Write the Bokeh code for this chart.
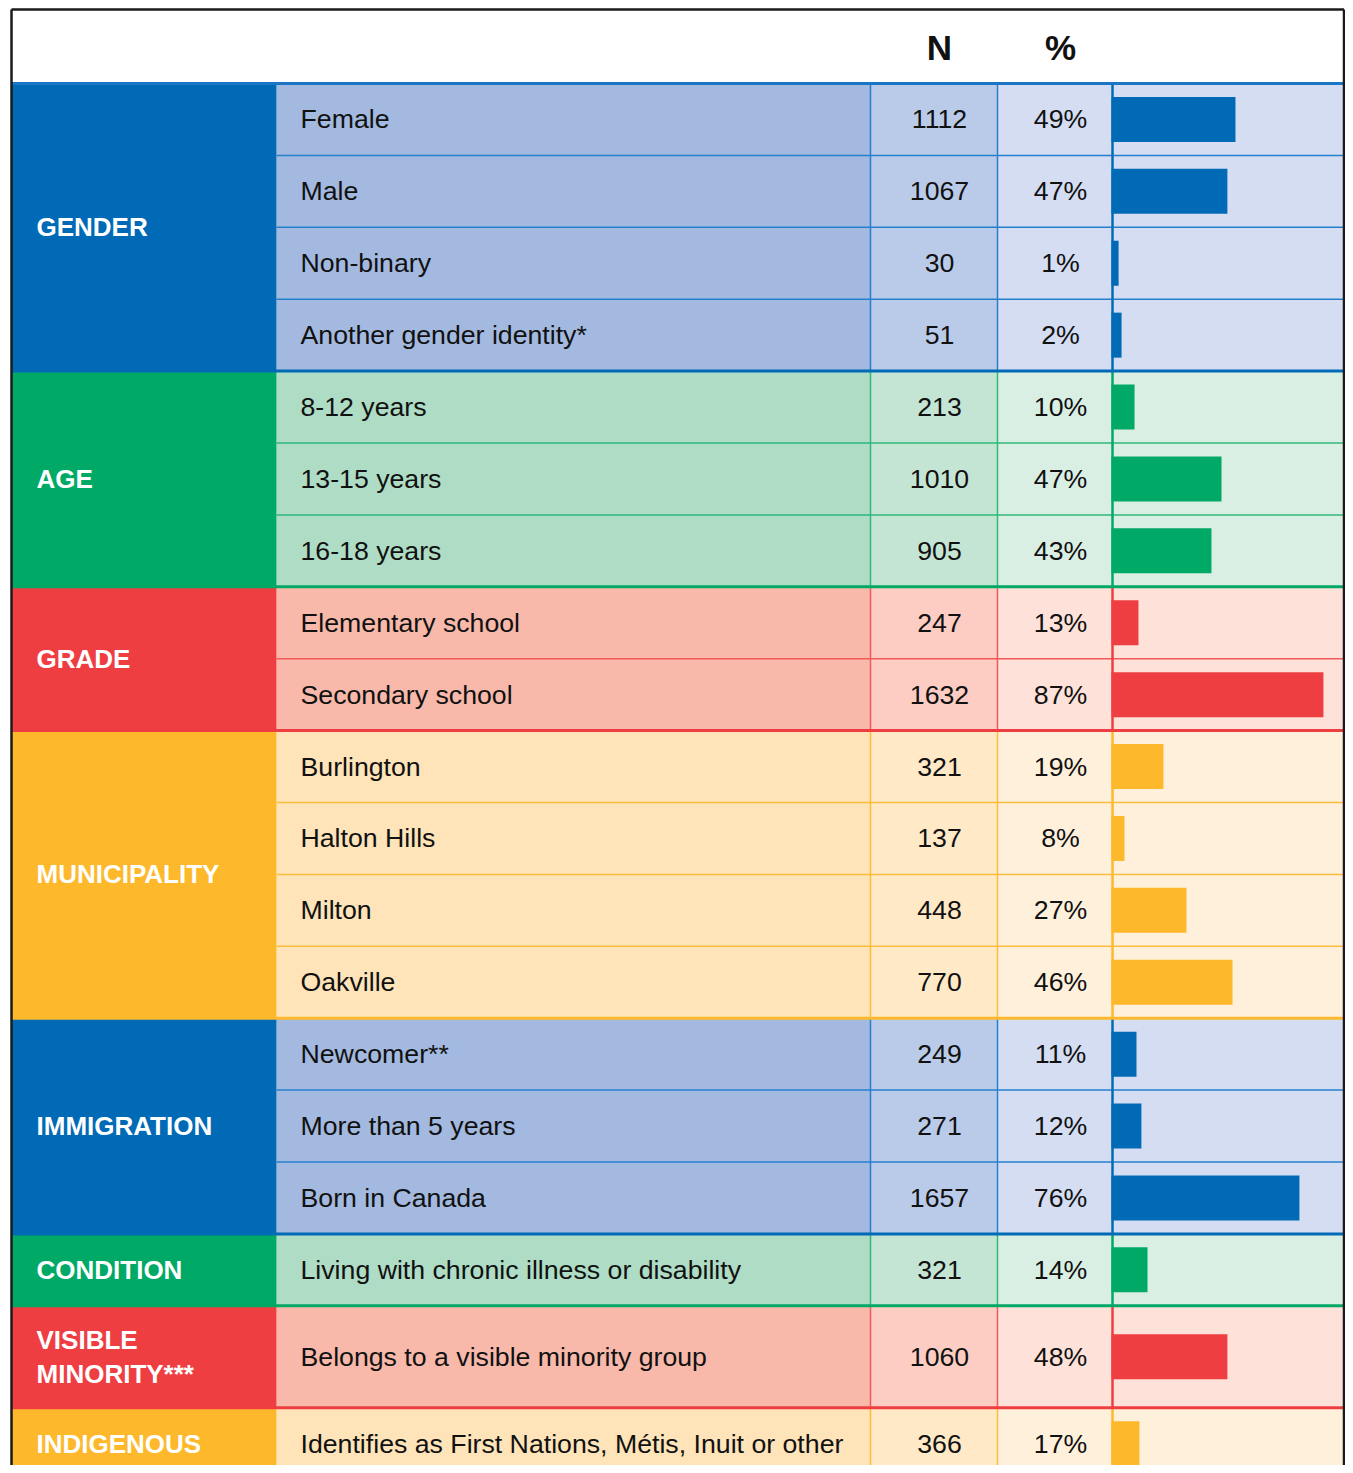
from bokeh.plotting import figure
from bokeh.models import Range1d, ColumnDataSource
from bokeh.core.properties import value
from bokeh.embed import file_html
from bokeh.resources import INLINE

# ---------------- data ----------------
sections = ["GENDER", "AGE", "GRADE", "MUNICIPALITY", "IMMIGRATION",
            "CONDITION", "VISIBLE\nMINORITY***", "INDIGENOUS"]
section_sizes = [4, 3, 2, 4, 3, 1, 1, 1]
section_theme = ["blue", "green", "red", "yellow", "blue", "green", "red", "yellow"]

labels = ["Female", "Male", "Non-binary", "Another gender identity*",
          "8-12 years", "13-15 years", "16-18 years",
          "Elementary school", "Secondary school",
          "Burlington", "Halton Hills", "Milton", "Oakville",
          "Newcomer**", "More than 5 years", "Born in Canada",
          "Living with chronic illness or disability",
          "Belongs to a visible minority group",
          "Identifies as First Nations, Métis, Inuit or other"]
counts = [1112, 1067, 30, 51, 213, 1010, 905, 247, 1632, 321, 137, 448, 770,
          249, 271, 1657, 321, 1060, 366]
pct = [49, 47, 1, 2, 10, 47, 43, 13, 87, 19, 8, 27, 46, 11, 12, 76, 14, 48, 17]
# bar lengths as drawn in the picture (percent units)
bar_share = [50.6, 47.3, 2.9, 4.1, 9.4, 44.9, 40.8, 11.0, 86.5, 21.2, 5.3,
             30.6, 49.4, 10.2, 12.2, 76.7, 14.7, 47.3, 11.4]
header_cols = ["N", "%"]

# ---------------- styles ----------------
themes = {
    "blue":   dict(dark="#006AB6", label="#A3B9E0", n="#BACBE9", pc="#D4DDF2", line="#2480CC"),
    "green":  dict(dark="#00A966", label="#AEDCC5", n="#C5E5D4", pc="#DAEFE3", line="#2EB87A"),
    "red":    dict(dark="#EF3E42", label="#F8B9AA", n="#FDCDC3", pc="#FEE1D8", line="#F25A5A"),
    "yellow": dict(dark="#FDB92B", label="#FEE4B8", n="#FFE9C6", pc="#FFF0DB", line="#FDBD3C"),
}
FONT = value("Liberation Sans")
W, H = 1345, 1465
X_LEFT, X_CAT, X_N, X_PC, X_BAR, X_RIGHT = 11, 276, 870, 997, 1111, W - 1.5
Y_TOP, Y_HEAD = 9, 83
ROW_H, TALL_H = 71.9, 102
PX_PER_PCT = 2.45

p = figure(width=W, height=H, x_range=Range1d(0, W), y_range=Range1d(H, 0),
           output_backend="svg", toolbar_location=None, min_border=0,
           x_axis_type=None, y_axis_type=None, outline_line_color=None,
           background_fill_color="white", border_fill_color="white")
p.grid.visible = False
p.extra_x_ranges = {"bar": Range1d((0 - X_BAR) / PX_PER_PCT, (W - X_BAR) / PX_PER_PCT)}

# row geometry
row_top, row_bot, row_theme, row_sec = [], [], [], []
y = Y_HEAD
for si, size in enumerate(section_sizes):
    for k in range(size):
        h = TALL_H if "\n" in sections[si] else ROW_H
        row_top.append(y)
        row_bot.append(y + h)
        row_theme.append(section_theme[si])
        row_sec.append(si)
        y += h
row_mid = [(a + b) / 2 for a, b in zip(row_top, row_bot)]

# cell backgrounds
L, R, T, B, C = [], [], [], [], []
for i in range(len(labels)):
    th = themes[row_theme[i]]
    for (l, rr, key) in [(X_CAT, X_N, "label"), (X_N, X_PC, "n"), (X_PC, X_BAR, "pc"), (X_BAR, X_RIGHT, "pc")]:
        L.append(l); R.append(rr); T.append(row_top[i]); B.append(row_bot[i]); C.append(th[key])
sec_top, sec_bot = [], []
idx = 0
for si, size in enumerate(section_sizes):
    sec_top.append(row_top[idx]); sec_bot.append(row_bot[idx + size - 1])
    L.append(X_LEFT); R.append(X_CAT); T.append(row_top[idx]); B.append(row_bot[idx + size - 1])
    C.append(themes[section_theme[si]]["dark"])
    idx += size
p.quad(left=L, right=R, top=T, bottom=B, fill_color=C, line_color=None)

# thin row lines inside sections
sx0, sy0, sx1, sy1, sc = [], [], [], [], []
for i in range(len(labels) - 1):
    if row_sec[i] == row_sec[i + 1]:
        sx0.append(X_CAT); sx1.append(X_RIGHT); sy0.append(row_bot[i]); sy1.append(row_bot[i])
        sc.append(themes[row_theme[i]]["line"])
p.segment(x0=sx0, y0=sy0, x1=sx1, y1=sy1, line_color=sc, line_width=1.5)

# vertical lines per section
vx0, vy0, vx1, vy1, vc = [], [], [], [], []
for si in range(len(sections)):
    th = themes[section_theme[si]]
    for xv in (X_N, X_PC):
        vx0.append(xv); vx1.append(xv); vy0.append(sec_top[si]); vy1.append(sec_bot[si]); vc.append(th["line"])
p.segment(x0=vx0, y0=vy0, x1=vx1, y1=vy1, line_color=vc, line_width=1.5)
p.segment(x0=[X_BAR + 1] * len(sections), x1=[X_BAR + 1] * len(sections), y0=sec_top, y1=sec_bot,
          line_color=[themes[t]["dark"] for t in section_theme], line_width=2.5)

# bars
src = ColumnDataSource(dict(y=row_mid, right=bar_share,
                            color=[themes[t]["dark"] for t in row_theme]))
p.hbar(y="y", left=0, right="right", height=45, fill_color="color", line_color=None,
       source=src, x_range_name="bar")

# section boundary lines
p.segment(x0=[X_LEFT] * len(sections), x1=[X_RIGHT] * len(sections), y0=sec_bot, y1=sec_bot,
          line_color=[themes[t]["dark"] for t in section_theme], line_width=3)
p.segment(x0=[X_LEFT], x1=[X_RIGHT], y0=[Y_HEAD], y1=[Y_HEAD], line_color="#1A75C5", line_width=3)

# outer border
p.segment(x0=[X_LEFT, X_LEFT, X_RIGHT], y0=[Y_TOP, Y_TOP, Y_TOP],
          x1=[X_RIGHT, X_LEFT, X_RIGHT], y1=[Y_TOP, H + 10, H + 10],
          line_color="#1A1A1A", line_width=2.5)

# texts
p.text(x=[939, 1060], y=[47, 47], text=header_cols, text_font=FONT, text_font_size="35px",
       text_font_style="bold", text_color="#111111", text_align="center", text_baseline="middle")
p.text(x=[36] * len(sections), y=[(a + b) / 2 for a, b in zip(sec_top, sec_bot)], text=sections,
       text_font=FONT, text_font_size="26px", text_font_style="bold", text_color="white",
       text_align="left", text_baseline="middle", text_line_height=1.13)
p.text(x=[300] * len(labels), y=row_mid, text=labels, text_font=FONT, text_font_size="26.7px",
       text_color="#111111", text_align="left", text_baseline="middle")
p.text(x=[939] * len(labels), y=row_mid, text=[str(c) for c in counts], text_font=FONT,
       text_font_size="26.7px", text_color="#111111", text_align="center", text_baseline="middle")
p.text(x=[1060] * len(labels), y=row_mid, text=[f"{v}%" for v in pct], text_font=FONT,
       text_font_size="26.7px", text_color="#111111", text_align="center", text_baseline="middle")

open("out.html", "w").write(file_html(p, INLINE))
